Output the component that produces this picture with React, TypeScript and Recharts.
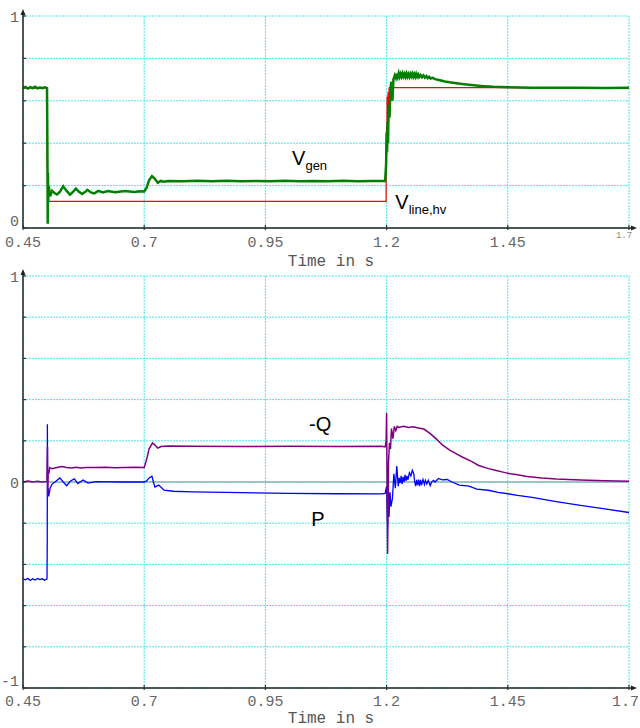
import React from 'react';
import { LineChart, Line, XAxis, YAxis, CartesianGrid, ReferenceDot, ReferenceLine } from 'recharts';

// ---------- axis ticks ----------
const xTicks = [0.45, 0.7, 0.95, 1.2, 1.45, 1.7];
const topYTicks = [0, 0.2, 0.4, 0.6, 0.8, 1];
const bottomYTicks = [-1, -0.8, -0.6, -0.4, -0.2, 0, 0.2, 0.4, 0.6, 0.8, 1];
const topYLabels = [0, 1];
const bottomYLabels = [-1, 0, 1];
const xTitle = 'Time in s';

// ---------- top chart: V_gen (green) and V_line,hv (red), [time s, value] ----------
const vGen: [number, number][] = [
  [0.45, 0.66], [0.455, 0.665], [0.46, 0.658], [0.465, 0.664], [0.47, 0.66], [0.475, 0.666],
  [0.48, 0.659], [0.485, 0.663], [0.49, 0.66], [0.495, 0.664], [0.4995, 0.66],
  [0.5, 0.5], [0.5005, 0.3], [0.501, 0.02], [0.5015, 0.26], [0.502, 0.12], [0.503, 0.2],
  [0.506, 0.15], [0.51, 0.175], [0.515, 0.165], [0.52, 0.158], [0.526, 0.17], [0.533, 0.197],
  [0.54, 0.175], [0.547, 0.157], [0.553, 0.17], [0.559, 0.186], [0.565, 0.172], [0.572, 0.16],
  [0.577, 0.168], [0.583, 0.18], [0.59, 0.168], [0.597, 0.163], [0.605, 0.175], [0.615, 0.168],
  [0.625, 0.174], [0.64, 0.169], [0.66, 0.174], [0.68, 0.17], [0.69, 0.173],
  [0.7, 0.172], [0.705, 0.19], [0.71, 0.225], [0.716, 0.245], [0.722, 0.232],
  [0.728, 0.213], [0.734, 0.222], [0.74, 0.218], [0.75, 0.222], [0.78, 0.22], [0.81, 0.223],
  [0.84, 0.221], [0.87, 0.223], [0.9, 0.221], [0.93, 0.222], [0.96, 0.22], [0.99, 0.223],
  [1.02, 0.221], [1.05, 0.222], [1.08, 0.22], [1.11, 0.223], [1.14, 0.221], [1.17, 0.222],
  [1.197, 0.222], [1.199, 0.3], [1.2, 0.45], [1.201, 0.36], [1.202, 0.5], [1.203, 0.4],
  [1.204, 0.58], [1.206, 0.52], [1.208, 0.66], [1.21, 0.69], [1.212, 0.6], [1.214, 0.7],
  [1.217, 0.72], [1.219, 0.708], [1.221, 0.728], [1.223, 0.712], [1.225, 0.73], [1.227, 0.713],
  [1.229, 0.727], [1.231, 0.714], [1.233, 0.729], [1.235, 0.715], [1.237, 0.727], [1.239, 0.713],
  [1.241, 0.728], [1.243, 0.714], [1.245, 0.726], [1.247, 0.713], [1.249, 0.727], [1.251, 0.715],
  [1.253, 0.728], [1.255, 0.714], [1.257, 0.726], [1.259, 0.713], [1.261, 0.727], [1.263, 0.714],
  [1.265, 0.724], [1.267, 0.712], [1.27, 0.722], [1.273, 0.711], [1.276, 0.72], [1.279, 0.709],
  [1.282, 0.717], [1.285, 0.707], [1.288, 0.713], [1.291, 0.705], [1.295, 0.708], [1.3, 0.702],
  [1.31, 0.697], [1.32, 0.691], [1.34, 0.684], [1.36, 0.678], [1.38, 0.673], [1.4, 0.669],
  [1.42, 0.666], [1.45, 0.664], [1.5, 0.662], [1.55, 0.661], [1.6, 0.662], [1.65, 0.66], [1.7, 0.661],
];

const vLine: [number, number][] = [
  [0.45, 0.66], [0.5, 0.66], [0.5, 0.33], [0.501, 0.126], [1.199, 0.126], [1.199, 0.3],
  [1.2, 0.48], [1.2005, 0.35], [1.201, 0.62], [1.202, 0.45], [1.203, 0.64], [1.204, 0.5],
  [1.205, 0.66], [1.206, 0.662], [1.7, 0.662],
];

// ---------- bottom chart: P (blue) and -Q (purple) ----------
const pSeries: [number, number][] = [
  [0.45, -0.47], [0.455, -0.475], [0.46, -0.468], [0.465, -0.478], [0.47, -0.47], [0.475, -0.476],
  [0.48, -0.468], [0.485, -0.474], [0.49, -0.47], [0.495, -0.477], [0.4995, -0.47],
  [0.5, -0.3], [0.5003, 0.28], [0.5006, 0.0], [0.501, -0.06], [0.502, -0.03], [0.503, -0.07],
  [0.506, -0.03], [0.51, -0.01], [0.516, 0.0], [0.526, 0.02], [0.533, 0.0], [0.54, -0.018],
  [0.548, 0.005], [0.556, 0.015], [0.563, -0.008], [0.574, 0.01], [0.584, -0.005], [0.6, 0.002],
  [0.65, 0.0], [0.7, 0.0], [0.705, 0.005], [0.71, 0.02], [0.716, 0.028], [0.719, 0.0],
  [0.722, -0.025], [0.73, -0.015], [0.741, -0.04], [0.76, -0.045], [0.8, -0.048], [0.9, -0.052],
  [1.0, -0.055], [1.1, -0.057], [1.19, -0.058], [1.197, -0.055], [1.2, -0.02], [1.202, -0.22],
  [1.203, 0.07], [1.205, -0.17], [1.207, -0.05], [1.209, -0.12], [1.212, -0.08], [1.215, 0.04],
  [1.218, -0.03], [1.221, 0.077], [1.224, -0.02], [1.226, 0.02], [1.228, -0.005], [1.23, 0.03],
  [1.232, -0.01], [1.234, 0.025], [1.236, 0.0], [1.238, 0.035], [1.24, 0.005], [1.242, 0.03],
  [1.244, 0.01], [1.247, 0.045], [1.25, 0.03], [1.253, 0.057], [1.256, 0.04], [1.258, 0.0],
  [1.26, -0.02], [1.262, 0.01], [1.264, -0.015], [1.266, 0.012], [1.268, -0.02], [1.27, 0.01],
  [1.272, -0.015], [1.275, 0.012], [1.278, -0.012], [1.28, 0.008], [1.283, -0.01], [1.286, 0.008],
  [1.29, -0.018], [1.293, 0.0], [1.297, 0.008], [1.3, 0.0], [1.307, 0.017], [1.315, 0.01],
  [1.325, 0.012], [1.335, 0.0], [1.35, -0.015], [1.37, -0.02], [1.386, -0.035], [1.41, -0.04],
  [1.43, -0.05], [1.45, -0.057], [1.47, -0.065], [1.5, -0.075], [1.55, -0.095], [1.6, -0.113],
  [1.65, -0.13], [1.7, -0.148],
];

const qSeries: [number, number][] = [
  [0.45, 0.0], [0.46, 0.005], [0.47, 0.0], [0.48, 0.004], [0.49, 0.0], [0.4995, 0.003],
  [0.5, 0.1], [0.5005, 0.17], [0.501, -0.06], [0.502, 0.05], [0.503, 0.04], [0.505, 0.07],
  [0.51, 0.065], [0.52, 0.07], [0.53, 0.075], [0.54, 0.07], [0.55, 0.068], [0.56, 0.072],
  [0.57, 0.068], [0.58, 0.07], [0.6, 0.07], [0.62, 0.072], [0.64, 0.069], [0.66, 0.07],
  [0.68, 0.072], [0.7, 0.07], [0.705, 0.11], [0.71, 0.16], [0.717, 0.19], [0.722, 0.18],
  [0.728, 0.165], [0.735, 0.172], [0.75, 0.175], [0.8, 0.173], [0.9, 0.172], [1.0, 0.174],
  [1.1, 0.172], [1.19, 0.173], [1.197, 0.17], [1.199, 0.2], [1.2, 0.335], [1.202, -0.35],
  [1.204, 0.1], [1.206, 0.19], [1.208, 0.16], [1.21, 0.26], [1.213, 0.21], [1.216, 0.27],
  [1.219, 0.25], [1.222, 0.27], [1.225, 0.265], [1.235, 0.27], [1.245, 0.265], [1.255, 0.268],
  [1.265, 0.262], [1.277, 0.257], [1.29, 0.235], [1.303, 0.208], [1.315, 0.18], [1.33, 0.155],
  [1.345, 0.135], [1.357, 0.12], [1.375, 0.1], [1.39, 0.08], [1.41, 0.065], [1.424, 0.057],
  [1.44, 0.048], [1.455, 0.04], [1.47, 0.035], [1.49, 0.027], [1.52, 0.02], [1.55, 0.015],
  [1.6, 0.01], [1.65, 0.006], [1.7, 0.004],
];

const toRows = (pts: [number, number][]) => pts.map(([t, v]) => ({ t, v }));

const MONO = '"Liberation Mono", "DejaVu Sans Mono", monospace';
const SANS = '"Liberation Sans", Arial, sans-serif';
const GRID = '#4ee6e6';

function XTick(props: any) {
  const { x, y, payload, variant } = props;
  const v = payload.value;
  const isLast = v === 1.7;
  const tinyLast = variant === 'top' && isLast;
  return (
    <g>
      <line x1={x} x2={x} y1={y - 3} y2={y + 2} stroke="#333" strokeWidth={1.2} />
      {tinyLast ? (
        <text x={x - 5} y={y + 10} fontSize={9} textAnchor="middle" fill="#888" fontFamily={MONO}>
          {String(v)}
        </text>
      ) : (
        <text
          x={isLast ? 639 : x}
          y={y + (variant === 'top' ? 19 : 18)}
          fontSize={15}
          textAnchor={isLast ? 'end' : 'middle'}
          fill="#666"
          fontFamily={MONO}
        >
          {String(v)}
        </text>
      )}
    </g>
  );
}

function YTick(props: any) {
  const { x, y, payload, labels } = props;
  const v = payload.value;
  const show = labels.includes(v);
  const isMin = v === labels[0];
  return (
    <g>
      <line x1={x} x2={x + 3} y1={y} y2={y} stroke="#333" strokeWidth={1.2} />
      {show && (
        <text x={x - 4} y={y + (isMin ? -7 : 1) + 5} textAnchor="end" fontSize={15} fill="#666" fontFamily={MONO}>
          {String(v)}
        </text>
      )}
    </g>
  );
}

function AxisTitle(props: any) {
  const vb = props.viewBox || { x: 23, y: 0, width: 606, height: 30 };
  return (
    <text x={vb.x + vb.width / 2 + 5} y={vb.y + props.dyBase} fontSize={16} textAnchor="middle" fill="#555" fontFamily={MONO}>
      {xTitle}
    </text>
  );
}

const annot = (main: string, sub?: string) => (p: any) => (
  <text x={p.cx} y={p.cy} fontFamily={SANS} fontSize={20} fill="#000">
    {main}
    {sub ? <tspan fontSize={13} dy={5}>{sub}</tspan> : null}
  </text>
);

const upArrow = (p: any) => (
  <g>
    <line x1={p.cx} x2={p.cx} y1={p.cy} y2={p.cy - 4} stroke="#222" strokeWidth={1.5} />
    <path d={`M${p.cx},${p.cy - 7} L${p.cx - 2.5},${p.cy - 1} L${p.cx + 2.5},${p.cy - 1} Z`} fill="#222" />
  </g>
);
const rightArrow = (p: any) => (
  <g>
    <line x1={p.cx} x2={p.cx + 5} y1={p.cy} y2={p.cy} stroke="#222" strokeWidth={1.5} />
    <path d={`M${p.cx + 8},${p.cy} L${p.cx + 2},${p.cy - 2.5} L${p.cx + 2},${p.cy + 2.5} Z`} fill="#222" />
  </g>
);

export default function App() {
  return (
    <div style={{ position: 'absolute', left: 0, top: 0, width: 640, height: 728, background: '#fff' }}>
      <div style={{ position: 'absolute', left: 0, top: 0 }}>
        <LineChart width={640} height={282} margin={{ top: 16, right: 11, bottom: 24, left: 0 }}>
          <CartesianGrid stroke={GRID} strokeDasharray="2 1" />
          <XAxis
            type="number" dataKey="t" domain={[0.45, 1.7]} ticks={xTicks} allowDataOverflow
            height={30} tickSize={0} tickMargin={0} tickLine={false}
            axisLine={{ stroke: '#222', strokeWidth: 1.5 }}
            tick={(p: any) => <XTick {...p} variant="top" />}
            label={<AxisTitle dyBase={38} />}
          />
          <YAxis
            type="number" domain={[0, 1]} ticks={topYTicks} allowDataOverflow
            width={23} tickSize={0} tickMargin={0} tickLine={false}
            axisLine={{ stroke: '#222', strokeWidth: 1.5 }}
            tick={(p: any) => <YTick {...p} labels={topYLabels} />}
          />
          <Line data={toRows(vLine)} dataKey="v" stroke="#ff0000" strokeWidth={1.2} dot={false} isAnimationActive={false} type="linear" />
          <Line data={toRows(vGen)} dataKey="v" stroke="#008000" strokeWidth={2.5} dot={false} isAnimationActive={false} type="linear" />
          <ReferenceDot x={1.005} y={0.297} r={0} ifOverflow="visible" shape={annot('V', 'gen')} />
          <ReferenceDot x={1.218} y={0.09} r={0} ifOverflow="visible" shape={annot('V', 'line,hv')} />
          <ReferenceDot x={0.45} y={1} r={0} ifOverflow="visible" shape={upArrow} />
          <ReferenceDot x={1.7} y={0} r={0} ifOverflow="visible" shape={rightArrow} />
        </LineChart>
      </div>
      <div style={{ position: 'absolute', left: 0, top: 262 }}>
        <LineChart width={640} height={466} margin={{ top: 14, right: 11, bottom: 10, left: 0 }}>
          <CartesianGrid stroke={GRID} strokeDasharray="2 1" />
          <XAxis
            type="number" dataKey="t" domain={[0.45, 1.7]} ticks={xTicks} allowDataOverflow
            height={30} tickSize={0} tickMargin={0} tickLine={false}
            axisLine={{ stroke: '#222', strokeWidth: 1.5 }}
            tick={(p: any) => <XTick {...p} variant="bottom" />}
            label={<AxisTitle dyBase={35} />}
          />
          <YAxis
            type="number" domain={[-1, 1]} ticks={bottomYTicks} allowDataOverflow
            width={23} tickSize={0} tickMargin={0} tickLine={false}
            axisLine={{ stroke: '#222', strokeWidth: 1.5 }}
            tick={(p: any) => <YTick {...p} labels={bottomYLabels} />}
          />
          <ReferenceLine y={0} stroke="#8fb3b3" strokeWidth={1.5} />
          <Line data={toRows(pSeries)} dataKey="v" stroke="#0000ff" strokeWidth={1.3} dot={false} isAnimationActive={false} type="linear" />
          <Line data={toRows(qSeries)} dataKey="v" stroke="#800080" strokeWidth={1.5} dot={false} isAnimationActive={false} type="linear" />
          <ReferenceDot x={1.04} y={0.248} r={0} ifOverflow="visible" shape={annot('-Q')} />
          <ReferenceDot x={1.0445} y={-0.214} r={0} ifOverflow="visible" shape={annot('P')} />
          <ReferenceDot x={0.45} y={1} r={0} ifOverflow="visible" shape={upArrow} />
          <ReferenceDot x={1.7} y={-1} r={0} ifOverflow="visible" shape={rightArrow} />
        </LineChart>
      </div>
    </div>
  );
}
